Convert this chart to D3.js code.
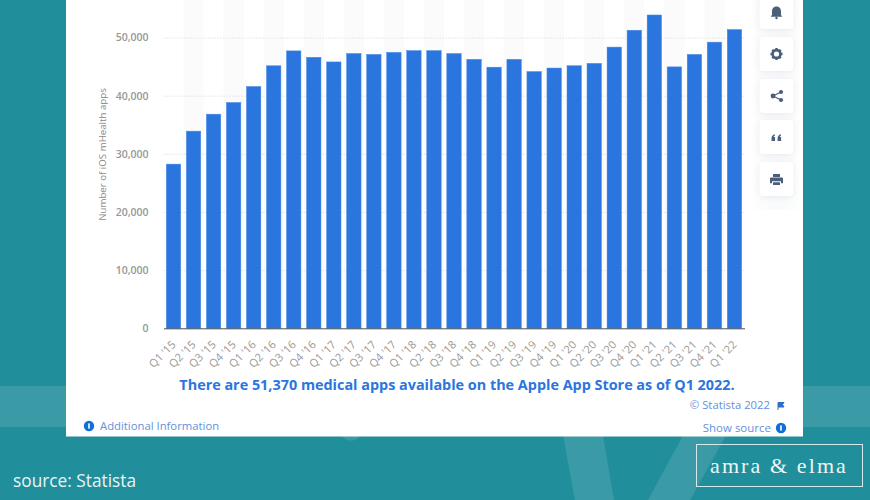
<!DOCTYPE html>
<html>
<head>
<meta charset="utf-8">
<script src="https://d3js.org/d3.v7.min.js"></script>
<style>
html,body{margin:0;padding:0;background:#218e9b;}
svg{display:block;}
text{font-family:"Open Sans",sans-serif;}
</style>
</head>
<body>
<svg id="chart" width="870" height="500"></svg>
<script>
const quarters = ["Q1 '15","Q2 '15","Q3 '15","Q4 '15","Q1 '16","Q2 '16","Q3 '16","Q4 '16","Q1 '17","Q2 '17","Q3 '17","Q4 '17","Q1 '18","Q2 '18","Q3 '18","Q4 '18","Q1 '19","Q2 '19","Q3 '19","Q4 '19","Q1 '20","Q2 '20","Q3 '20","Q4 '20","Q1 '21","Q2 '21","Q3 '21","Q4 '21","Q1 '22"];
const appCounts = [28230,33900,36820,38830,41580,45140,47700,46600,45800,47250,47100,47450,47750,47750,47250,46250,44900,46250,44150,44750,45150,45550,48350,51250,53870,44950,47100,49200,51370];
const yTicks = [0,10000,20000,30000,40000,50000];
const yTitle = "Number of iOS mHealth apps";
const headline = "There are 51,370 medical apps available on the Apple App Store as of Q1 2022.";

const svg = d3.select("#chart");
const pale = "#3a9ba7", blue = "#2a76de", linkBlue = "#6491dc";

// Page backdrop: pale ribbons and the large diagonal letter shape
const backdrop = svg.append("g").attr("fill", pale);
backdrop.append("rect").attr("x", 0).attr("y", 386).attr("width", 870).attr("height", 41);
backdrop.append("path").attr("d", "M562,430L602,430L614,500L575,500Z");
backdrop.append("path").attr("d", "M686,430L729,430L690,500L648,500Z");
backdrop.append("circle").attr("cx", 351).attr("cy", 429).attr("r", 11.5);

// White card holding the chart
svg.append("rect").attr("x", 66).attr("y", 0).attr("width", 737).attr("height", 436.5).attr("fill", "#fff");
const sideFade = svg.append("defs").append("linearGradient").attr("id", "sideFade");
sideFade.append("stop").attr("offset", 0).attr("stop-color", "#fff");
sideFade.append("stop").attr("offset", 0.6).attr("stop-color", "#f9fafc");
sideFade.append("stop").attr("offset", 1).attr("stop-color", "#fff");
svg.append("rect").attr("x", 745).attr("y", 0).attr("width", 58).attr("height", 210).attr("fill", "url(#sideFade)");

const x = d3.scaleBand().domain(quarters).range([163.5, 744.5]).paddingInner(0.28).paddingOuter(0.14);
const y = d3.scaleLinear().domain([0, 50000]).range([328.3, 37.5]);
const step = x.step();

// Alternating column shading behind the bars
svg.append("g").selectAll("rect")
  .data(quarters.filter((d, i) => i % 2 === 1))
  .join("rect")
  .attr("x", d => x(d) + x.bandwidth() / 2 - step / 2)
  .attr("y", 0)
  .attr("width", step)
  .attr("height", 328)
  .attr("fill", "#fbfbfb");

// Value axis with dotted gridlines
const yAxis = svg.append("g").attr("transform", "translate(163.5,0)")
  .call(d3.axisLeft(y).tickValues(yTicks).tickSize(0).tickPadding(15).tickFormat(d3.format(",")));
yAxis.select(".domain").remove();
yAxis.selectAll("text").attr("fill", "#979797").style("font-size", "10.5px").style("font-weight", 600);
yAxis.selectAll("line")
  .filter(d => d > 0)
  .attr("x2", 581).attr("stroke", "#d4d4d4").attr("stroke-dasharray", "1,2");

svg.append("text")
  .attr("transform", "translate(106,154.5) rotate(-90)")
  .attr("text-anchor", "middle")
  .attr("fill", "#8a8a8a").style("font-size", "9.7px")
  .text(yTitle);

// Bars
svg.append("g").selectAll("rect")
  .data(quarters)
  .join("rect")
  .attr("x", d => x(d))
  .attr("y", (d, i) => y(appCounts[i]))
  .attr("width", x.bandwidth())
  .attr("height", (d, i) => y(0) - y(appCounts[i]))
  .attr("fill", blue)
  .attr("stroke", "#4a8ce8")
  .attr("stroke-width", 0.5);

// Category axis with slanted labels
const xAxis = svg.append("g").attr("transform", "translate(0,328.3)")
  .call(d3.axisBottom(x).tickSize(0).tickPadding(0));
xAxis.select(".domain").attr("stroke", "#4a4f55").attr("stroke-width", 1);
xAxis.selectAll("text")
  .attr("text-anchor", "end")
  .attr("dy", 0)
  .attr("transform", "translate(3,17) rotate(-45)")
  .attr("fill", "#979797").style("font-size", "11px");

// Headline statement under the chart
svg.append("text").attr("x", 457).attr("y", 390).attr("text-anchor", "middle")
  .attr("fill", blue).style("font-size", "14.4px").style("font-weight", 700).text(headline);

// Card footer links
function infoDot(cx, cy) {
  svg.append("circle").attr("cx", cx).attr("cy", cy).attr("r", 5.2).attr("fill", "#0f6fd6");
  svg.append("rect").attr("x", cx - 0.8).attr("y", cy - 2.6).attr("width", 1.6).attr("height", 5.2).attr("fill", "#fff");
}
infoDot(89, 426);
svg.append("text").attr("x", 100).attr("y", 430).attr("fill", linkBlue).style("font-size", "11.3px").text("Additional Information");
svg.append("text").attr("x", 770).attr("y", 409).attr("text-anchor", "end").attr("fill", linkBlue).style("font-size", "11.3px").text("© Statista 2022");
svg.append("path").attr("d", "M778,402.5V410M778,402.5H784L782.5,404.5L784,407H778").attr("fill", "#2a6fc9").attr("stroke", "#2a6fc9").attr("stroke-width", 1);
svg.append("text").attr("x", 771).attr("y", 432).attr("text-anchor", "end").attr("fill", linkBlue).style("font-size", "11.5px").text("Show source");
infoDot(781, 428);

// Tool buttons down the right side of the card
const buttonTops = [-5, 37, 79, 120, 162];
const iconInk = "#4a5f7a";
svg.append("g").selectAll("rect").data(buttonTops).join("rect")
  .attr("x", 759.5).attr("y", d => d).attr("width", 34).attr("height", 34).attr("rx", 4)
  .attr("fill", "#fff").style("filter", "drop-shadow(0 1px 3px rgba(60,70,90,.10))");
const icons = svg.append("g").attr("fill", iconInk);
// bell
icons.append("path").attr("d", "M776.5,6.5c-3,0-4.5,2.3-4.5,5v3.5l-1.3,1.8h11.6L781,15v-3.5c0-2.7-1.5-5-4.5-5Z");
icons.append("circle").attr("cx", 776.5).attr("cy", 18).attr("r", 1.2);
// cog
icons.append("circle").attr("cx", 776.5).attr("cy", 54).attr("r", 3.9).attr("fill", "none").attr("stroke", iconInk).attr("stroke-width", 2.6);
icons.append("g").selectAll("rect").data([0, 45, 90, 135, 180, 225, 270, 315]).join("rect")
  .attr("x", 775.3).attr("y", 48).attr("width", 2.4).attr("height", 2.2)
  .attr("transform", d => `rotate(${d} 776.5 54)`);
// share
icons.append("path").attr("d", "M781,92L773,96L781,100").attr("fill", "none").attr("stroke", iconInk).attr("stroke-width", 1.2);
icons.append("circle").attr("cx", 781).attr("cy", 92).attr("r", 2.1);
icons.append("circle").attr("cx", 773).attr("cy", 96).attr("r", 2.4);
icons.append("circle").attr("cx", 781).attr("cy", 100).attr("r", 2.1);
// quotation marks
icons.append("path").attr("d", "M771.5,138.5c0-2.4,1.3-3.6,3.3-4.2v1.4c-.8.3-1.2.8-1.2,1.4h1.4v3.9h-3.5ZM777.6,138.5c0-2.4,1.3-3.6,3.3-4.2v1.4c-.8.3-1.2.8-1.2,1.4h1.4v3.9h-3.5Z");
// printer
icons.append("path").attr("d", "M773,174h7v3h-7ZM770.8,177.5h11.4a.8.8,0,0,1,.8.8v5h-2v-2h-9v2h-2v-5a.8.8,0,0,1,.8-.8ZM773,182.3h7v2.7h-7Z");

// Source note and brand box on the page
svg.append("text").attr("x", 13).attr("y", 487).attr("fill", "#eaf4f5").style("font-size", "17.3px").text("source: Statista");
svg.append("rect").attr("x", 696.5).attr("y", 444.5).attr("width", 166).attr("height", 42)
  .attr("fill", "none").attr("stroke", "#d5e8ea").attr("stroke-width", 1);
svg.append("text").attr("x", 779).attr("y", 472.5).attr("text-anchor", "middle")
  .attr("fill", "#eef6f7").style("font-family", "'Liberation Serif',serif").style("font-size", "22px").style("letter-spacing", "2.1px")
  .text("amra & elma");
</script>
</body>
</html>
